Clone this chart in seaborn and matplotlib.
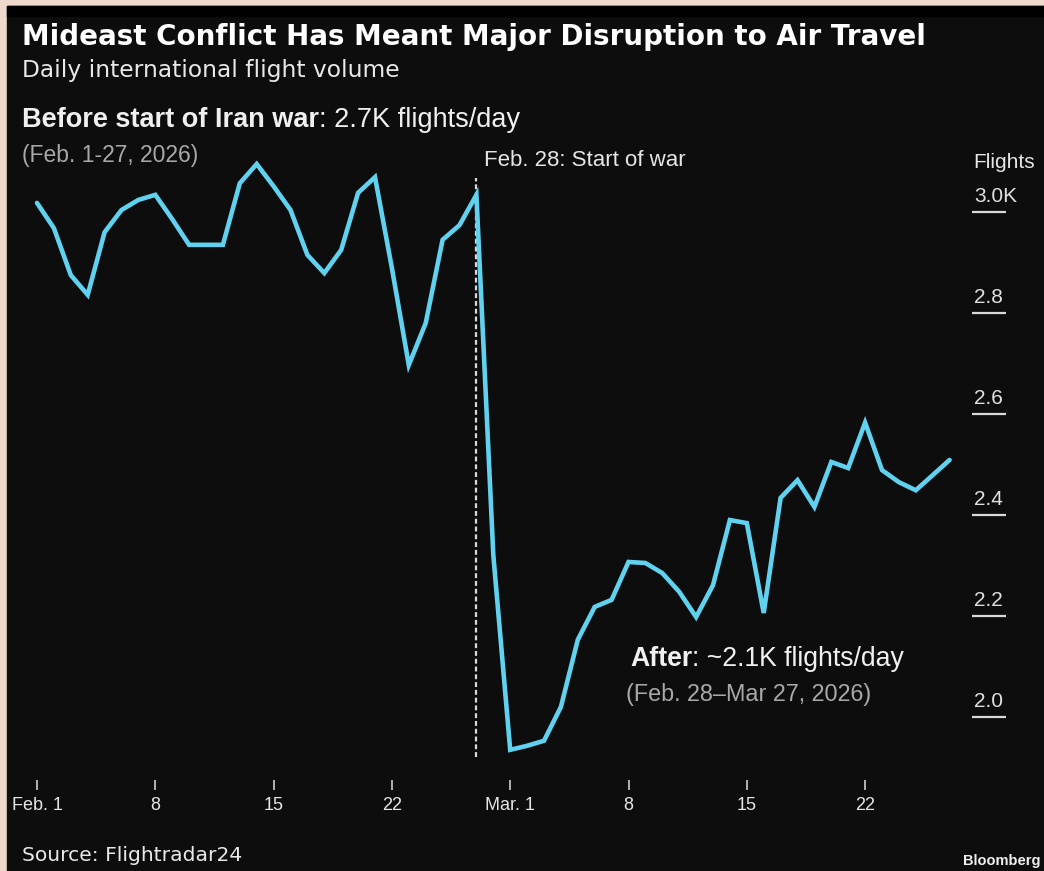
import numpy as np
import pandas as pd
import matplotlib
matplotlib.use("Agg")
import matplotlib.pyplot as plt
import matplotlib.transforms as mtransforms
from matplotlib.patches import Rectangle
import seaborn as sns

# ---------------- data ----------------
dates = pd.date_range("2026-02-01", "2026-03-27", freq="D")
flights = [3017, 2967, 2874, 2835, 2959, 3003, 3023, 3033, 2985, 2934,
           2934, 2934, 3056, 3094, 3050, 3003, 2914, 2878, 2924, 3037,
           3068, 2888, 2696, 2779, 2944, 2973, 3033,
           2320, 1934, 1942, 1952, 2019, 2152, 2217, 2231, 2306, 2304,
           2284, 2247, 2197, 2260, 2389, 2383, 2205, 2433, 2468, 2415,
           2504, 2492, 2582, 2488, 2464, 2448, 2478, 2508]
ytick_values = [3000, 2800, 2600, 2400, 2200, 2000]
ytick_labels = ["3.0K", "2.8", "2.6", "2.4", "2.2", "2.0"]
xtick_dates = pd.to_datetime(["2026-02-01", "2026-02-08", "2026-02-15", "2026-02-22",
                              "2026-03-01", "2026-03-08", "2026-03-15", "2026-03-22"])
xtick_labels = ["Feb. 1", "8", "15", "22", "Mar. 1", "8", "15", "22"]
war_marker = pd.Timestamp("2026-02-27")

title = "Mideast Conflict Has Meant Major Disruption to Air Travel"
subtitle = "Daily international flight volume"
before_bold, before_reg = "Before start of Iran war", ": 2.7K flights/day"
before_sub = "(Feb. 1-27, 2026)"
after_bold, after_reg = "After", ": ~2.1K flights/day"
after_sub = "(Feb. 28\u2013Mar 27, 2026)"
war_label = "Feb. 28: Start of war"
source = "Source: Flightradar24"

df = pd.DataFrame({"date": dates, "flights": flights})

# ---------------- style ----------------
sns.set_theme(style="dark")
plt.rcParams["font.family"] = ["Liberation Sans", "DejaVu Sans"]

W, H = 1044, 871
BG = "#0d0d0d"
LINE = "#60d1ef"
TXT = "#f0f0f0"
GRAY = "#a8a8a8"

fig = plt.figure(figsize=(W / 100, H / 100), dpi=100, facecolor="#efd9cd")
fig.add_artist(Rectangle((7 / W, 0), (W - 7) / W, (H - 6) / H,
                         transform=fig.transFigure, color=BG, zorder=-10))
fig.add_artist(Rectangle((7 / W, (H - 16) / H), (W - 7) / W, 10 / H,
                         transform=fig.transFigure, color="#000000", zorder=-9))

# axes geometry (pixels): left 20, right 1030, top 150, bottom 780
axL, axR, axT, axB = 20, 1030, 150, 780
ax = fig.add_axes([axL / W, (H - axB) / H, (axR - axL) / W, (axB - axT) / H])
ax.set_facecolor("none")
for s in ax.spines.values():
    s.set_visible(False)
ax.grid(False)

px_per_day = 16.9
x0 = dates[0]
ax.set_xlim(x0 - pd.Timedelta(days=(37 - axL) / px_per_day),
            x0 + pd.Timedelta(days=(axR - 37) / px_per_day))
px_per_unit = 505 / 1000
ax.set_ylim(3000 - (axB - 211.5) / px_per_unit, 3000 - (axT - 211.5) / px_per_unit)

# dashed war line
ax.axvline(war_marker, ymin=(axB - 757) / (axB - axT), ymax=(axB - 178) / (axB - axT),
           color="#d8d8d8", lw=1.6, ls=(0, (2.2, 1.3)), zorder=1)

sns.lineplot(data=df, x="date", y="flights", ax=ax, color=LINE, lw=3.3, zorder=3)
for ln in ax.lines:
    ln.set_solid_joinstyle("miter")
ax.set_xlabel("")
ax.set_ylabel("")

# x ticks
ax.set_xticks(xtick_dates)
ax.set_xticklabels(xtick_labels)
ax.tick_params(axis="x", length=7, width=1.2, color="#cfcfcf", direction="out",
               pad=5, labelsize=13, labelcolor="#e6e6e6", bottom=True)
ax.set_yticks([])

# y stubs + labels on the right
trans = mtransforms.blended_transform_factory(ax.transAxes, ax.transData)
sx0 = (972 - axL) / (axR - axL)
sx1 = (1006 - axL) / (axR - axL)
for v, lab in zip(ytick_values, ytick_labels):
    ax.plot([sx0, sx1], [v, v], transform=trans, color="#d8d8d8", lw=1.6,
            clip_on=False, solid_capstyle="butt")
    ax.annotate(lab, xy=(sx0, v), xycoords=trans, xytext=(2, 6),
                textcoords="offset pixels", ha="left", va="bottom",
                fontsize=15, color="#e0e0e0")
fig.text(973 / W, 1 - 168 / H, "Flights", fontsize=15, color="#e6e6e6",
         ha="left", va="baseline")

# war label
fig.text(484 / W, 1 - 166 / H, war_label, fontsize=16, color="#e6e6e6",
         ha="left", va="baseline")

# titles
fig.text(22 / W, 1 - 45 / H, title, fontsize=20, weight="bold", color="#ffffff",
         family="DejaVu Sans", ha="left", va="baseline")
fig.text(22 / W, 1 - 77 / H, subtitle, fontsize=16.8, color="#e8e8e8",
         family="DejaVu Sans", ha="left", va="baseline")

# mixed-weight annotations
def mixed(xpx, ypx, bold, reg, size):
    t1 = fig.text(xpx / W, 1 - ypx / H, bold, fontsize=size, weight="bold",
                  color=TXT, ha="left", va="baseline")
    ax.annotate(reg, xy=(1, 0), xycoords=t1, ha="left", va="bottom",
                fontsize=size, color=TXT, annotation_clip=False)

mixed(22, 127, before_bold, before_reg, 19.5)
fig.text(22 / W, 1 - 162 / H, before_sub, fontsize=16.5, color=GRAY,
         ha="left", va="baseline")
mixed(630, 666, after_bold, after_reg, 19.2)
fig.text(626 / W, 1 - 701 / H, after_sub, fontsize=16.8, color=GRAY,
         ha="left", va="baseline")

# footer
fig.text(22 / W, 1 - 861 / H, source, fontsize=14.6, color="#e8e8e8",
         family="DejaVu Sans", ha="left", va="baseline")
fig.text(1040 / W, 1 - 865 / H, "Bloomberg", fontsize=10.5, weight="bold",
         color="#f0f0f0", ha="right", va="baseline")

fig.savefig("out.png", dpi=100, facecolor=fig.get_facecolor())
